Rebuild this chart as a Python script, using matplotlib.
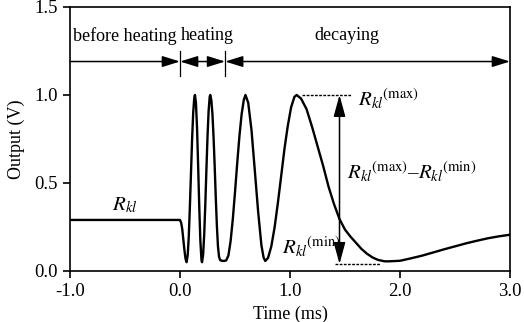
import matplotlib
matplotlib.use("Agg")
import matplotlib.pyplot as plt

# Ausgangssignal
zeit = [-1.0, -0.01, 0.0, 0.01, 0.02, 0.03, 0.04, 0.05, 0.06,
        0.07, 0.08, 0.09, 0.10, 0.11, 0.12, 0.13, 0.136,
        0.145, 0.155, 0.165, 0.175, 0.185, 0.195, 0.20,
        0.21, 0.22, 0.23, 0.24, 0.25, 0.26, 0.27, 0.275,
        0.285, 0.295, 0.305, 0.315, 0.325, 0.335, 0.345, 0.355, 0.365,
        0.38, 0.40, 0.42, 0.44, 0.46, 0.48, 0.50, 0.52, 0.54, 0.56, 0.58, 0.595,
        0.62, 0.65, 0.68, 0.71, 0.74, 0.76, 0.775,
        0.80, 0.83, 0.86, 0.89, 0.92, 0.95, 0.98, 1.01, 1.04, 1.06,
        1.10, 1.15, 1.20, 1.25, 1.30, 1.35, 1.40, 1.45, 1.50, 1.55, 1.60,
        1.65, 1.70, 1.75, 1.80, 1.86, 1.90, 2.0, 2.1, 2.2, 2.3, 2.4, 2.5,
        2.6, 2.7, 2.8, 2.9, 3.0]
spannung = [0.29, 0.29, 0.29, 0.275, 0.24, 0.18, 0.12, 0.07, 0.05,
            0.09, 0.20, 0.37, 0.56, 0.75, 0.90, 0.985, 1.0,
            0.954, 0.81, 0.595, 0.365, 0.172, 0.064, 0.05,
            0.091, 0.207, 0.378, 0.575, 0.763, 0.909, 0.99, 1.0,
            0.97, 0.89, 0.76, 0.60, 0.42, 0.26, 0.14, 0.08, 0.062,
            0.058, 0.057, 0.06, 0.088, 0.17, 0.295, 0.448, 0.612, 0.765, 0.89, 0.972, 1.0,
            0.956, 0.80, 0.571, 0.339, 0.146, 0.076, 0.057,
            0.074, 0.14, 0.248, 0.388, 0.541, 0.696, 0.825, 0.93, 0.989, 1.0,
            0.98, 0.92, 0.82, 0.71, 0.60, 0.48, 0.38, 0.295, 0.235, 0.195, 0.16,
            0.125, 0.098, 0.077, 0.063, 0.055, 0.055, 0.058, 0.072, 0.087, 0.105, 0.123, 0.14,
            0.157, 0.172, 0.186, 0.197, 0.206]

faser = ["before heating", "heating", "decaying"]
grenzen = [-1.0, 0.0, 0.41, 3.0]
r_max = 1.0
r_min = 0.04

plt.rcParams['font.family'] = ['Liberation Serif', 'DejaVu Serif']
plt.rcParams['mathtext.fontset'] = 'stix'
plt.rcParams['font.size'] = 13

fig = plt.figure(figsize=(5.24, 3.22), dpi=100)
ax = fig.add_axes([0.1336, 0.1584, 0.8397, 0.82])

ax.plot(zeit, spannung, color='black', lw=1.7)

# Pfeile oben
y_pf = 1.19
pf = dict(color='black', lw=1.1, shrinkA=0, shrinkB=0, mutation_scale=12)
ax.annotate('', xy=(grenzen[1], y_pf), xytext=(grenzen[0], y_pf),
            arrowprops=dict(arrowstyle='-|>,head_length=0.9,head_width=0.28', **pf))
ax.annotate('', xy=(grenzen[2], y_pf), xytext=(grenzen[1], y_pf),
            arrowprops=dict(arrowstyle='<|-|>,head_length=0.9,head_width=0.28', **pf))
ax.annotate('', xy=(grenzen[3], y_pf), xytext=(grenzen[2], y_pf),
            arrowprops=dict(arrowstyle='<|-|>,head_length=0.9,head_width=0.28', **pf))
for g in grenzen[1:3]:
    ax.plot([g, g], [1.11, 1.25], color='black', lw=0.9)

mitten = [-0.5, 0.25, 1.52]
for name, m in zip(faser, mitten):
    ax.text(m, 1.335, name, ha='center', va='center')

# R_kl Markierungen
ax.plot([1.11, 1.555], [r_max, r_max], color='black', lw=1.0, ls=(0, (2, 1)))
ax.plot([1.41, 1.82], [r_min, r_min], color='black', lw=1.0, ls=(0, (2, 1)))
ax.annotate('', xy=(1.45, r_max), xytext=(1.45, r_min),
            arrowprops=dict(arrowstyle='<|-|>,head_length=1.1,head_width=0.3', **pf))

ax.text(-0.5, 0.375, r'$R_{kl}$', ha='center', va='center', fontsize=15)
ax.text(1.62, 0.975, r'$R_{kl}{}^{\mathrm{(max)}}$', ha='left', va='center', fontsize=15)
ax.text(1.52, 0.56, r'$R_{kl}{}^{\mathrm{(max)}}$–$R_{kl}{}^{\mathrm{(min)}}$',
        ha='left', va='center', fontsize=15)
ax.text(0.93, 0.135, r'$R_{kl}{}^{\mathrm{(min)}}$', ha='left', va='center', fontsize=15)

ax.set_xlim(-1.0, 3.0)
ax.set_ylim(0.0, 1.5)
ax.set_xticks([-1.0, 0.0, 1.0, 2.0, 3.0])
ax.set_xticklabels(["-1.0", "0.0", "1.0", "2.0", "3.0"])
ax.set_yticks([0.0, 0.5, 1.0, 1.5])
ax.set_yticklabels(["0.0", "0.5", "1.0", "1.5"])
ax.tick_params(direction='out', length=5, width=1.2, labelsize=13.5)
for s in ax.spines.values():
    s.set_linewidth(1.2)
ax.set_xlabel("Time (ms)", labelpad=4)
ax.set_ylabel("Output (V)", labelpad=7)

fig.savefig("out.png", dpi=100)
